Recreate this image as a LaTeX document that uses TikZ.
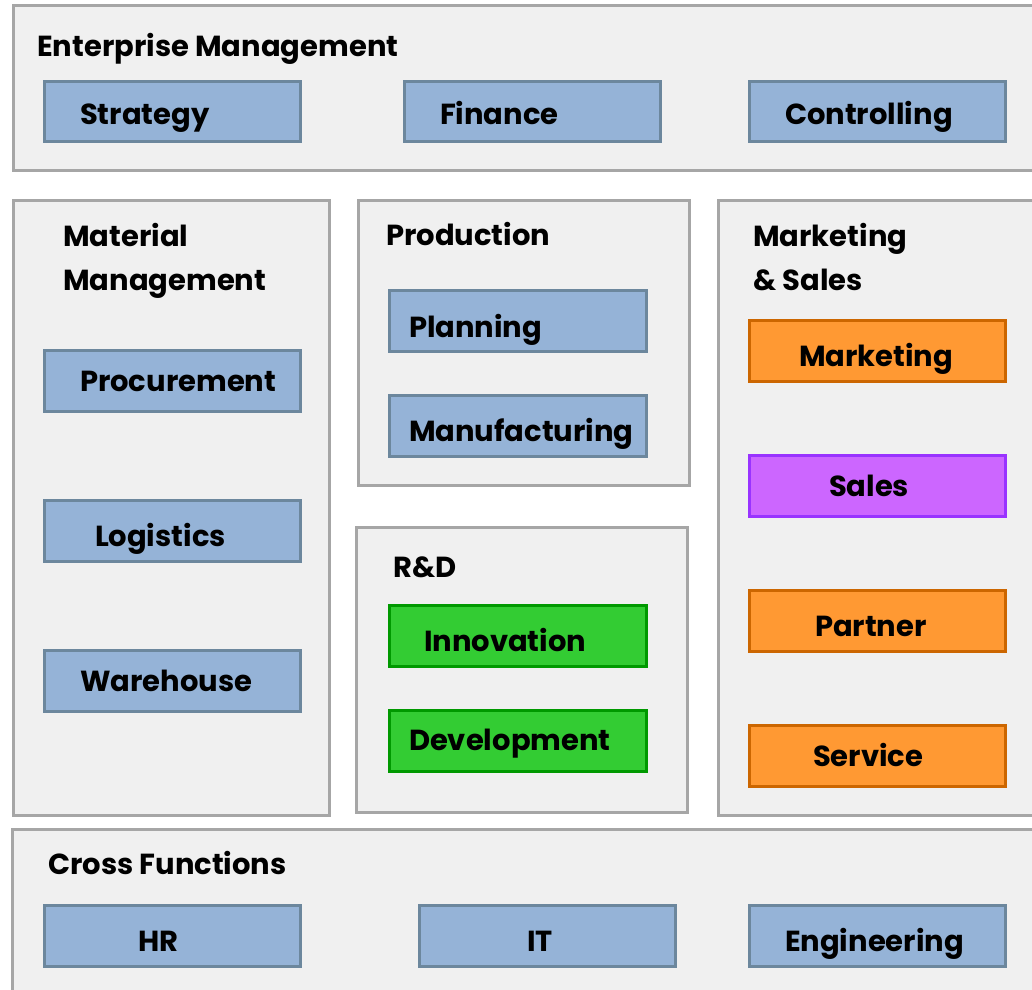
\documentclass[tikz,border=0pt]{standalone}
\usepackage{fontspec}
\setmainfont{Poppins}
\definecolor{outerfill}{HTML}{F0F0F0}
\definecolor{outerdraw}{HTML}{A6A6A6}
\definecolor{bluefill}{HTML}{95B3D7}
\definecolor{bluedraw}{HTML}{6C879D}
\definecolor{greenfill}{HTML}{33CC33}
\definecolor{greendraw}{HTML}{009900}
\definecolor{orangefill}{HTML}{FF9933}
\definecolor{orangedraw}{HTML}{CC6600}
\definecolor{purplefill}{HTML}{CC66FF}
\definecolor{purpledraw}{HTML}{9933FF}
\newcommand\lblfont{\fontsize{29}{44}\selectfont\bfseries}
% #1 style, #2 name, #3 x1, #4 y1, #5 x2, #6 y2, #7 text x, #8 text baseline y, #9 text
\newcommand\blk[9]{%
  \pgfmathsetmacro\blkw{#5-#3}%
  \pgfmathsetmacro\blkh{#6-#4}%
  \pgfmathsetmacro\blkp{#7-#3-1.5}%
  \pgfmathsetmacro\blkt{#5-#3-2*(#7-#3-1.5)}%
  \pgfmathsetmacro\blkH{2*#8-#4-#6}%
  \node[#1, anchor=north west, minimum width=\blkw pt, minimum height=\blkh pt,
        inner xsep=\blkp pt, inner ysep=0pt, text width=\blkt pt,
        text height=\blkH pt, text depth=0pt, align=left] (#2) at (#3,#4) {\mbox{#9}};}
\begin{document}
\begin{tikzpicture}[x=1pt,y=-1pt,
  outerbox/.style={draw=outerdraw, fill=outerfill, line width=3pt},
  inbox/.style={line width=3pt, font=\lblfont, text=black},
  bluebox/.style={inbox, draw=bluedraw, fill=bluefill},
  greenbox/.style={inbox, draw=greendraw, fill=greenfill},
  orangebox/.style={inbox, draw=orangedraw, fill=orangefill},
  purplebox/.style={inbox, draw=purpledraw, fill=purplefill},
  title/.style={font=\lblfont, anchor=base west, inner sep=0pt, align=left}]
\useasboundingbox (0,0) rectangle (1032,989);
\clip (0,0) rectangle (1032,989);
% group frames
\draw[outerbox] (13,5) rectangle (1045,170);
\draw[outerbox] (13,200) rectangle (329,815);
\draw[outerbox] (358,200) rectangle (689,485);
\draw[outerbox] (356,527) rectangle (687,812);
\draw[outerbox] (718,200) rectangle (1045,815);
\draw[outerbox] (12,829) rectangle (1045,1000);
% titles (base = baseline of the last line)
\node[title] (tEM) at (37,56) {Enterprise Management};
\node[title] (tMM) at (63,290) {Material\\Management};
\node[title] (tPR) at (386,245) {Production};
\node[title] (tMS) at (753,290) {Marketing\\\& Sales};
\node[title] (tRD) at (393,577) {R\&D};
\node[title] (tCF) at (48,874) {Cross Functions};
% enterprise management
\blk{bluebox}{strategy}{43}{80}{299}{140}{80}{123}{Strategy}
\blk{bluebox}{finance}{403}{80}{659}{140}{440}{123}{Finance}
\blk{bluebox}{controlling}{748}{80}{1004}{140}{785}{123}{Controlling}
% material management
\blk{bluebox}{procurement}{43}{349}{299}{410}{80}{390}{Procurement}
\blk{bluebox}{logistics}{43}{499}{299}{560}{95}{545}{Logistics}
\blk{bluebox}{warehouse}{43}{649}{299}{710}{80}{690}{Warehouse}
% production
\blk{bluebox}{planning}{388}{289}{645}{350}{409}{336}{Planning}
\blk{bluebox}{manufacturing}{388}{394}{645}{455}{409}{440}{Manufacturing}
% R&D
\blk{greenbox}{innovation}{388}{604}{645}{665}{424}{650}{Innovation}
\blk{greenbox}{development}{388}{709}{645}{770}{409}{749}{Development}
% marketing & sales
\blk{orangebox}{marketing}{748}{319}{1004}{380}{799}{365}{Marketing}
\blk{purplebox}{sales}{748}{454}{1004}{515}{829}{495}{Sales}
\blk{orangebox}{partner}{748}{589}{1004}{650}{815}{635}{Partner}
\blk{orangebox}{service}{748}{724}{1004}{785}{813}{765}{Service}
% cross functions
\blk{bluebox}{hr}{43}{904}{299}{965}{138}{950}{HR}
\blk{bluebox}{it}{418}{904}{674}{965}{527}{950}{IT}
\blk{bluebox}{engineering}{748}{904}{1004}{965}{785}{950}{Engineering}
\end{tikzpicture}
\end{document}
